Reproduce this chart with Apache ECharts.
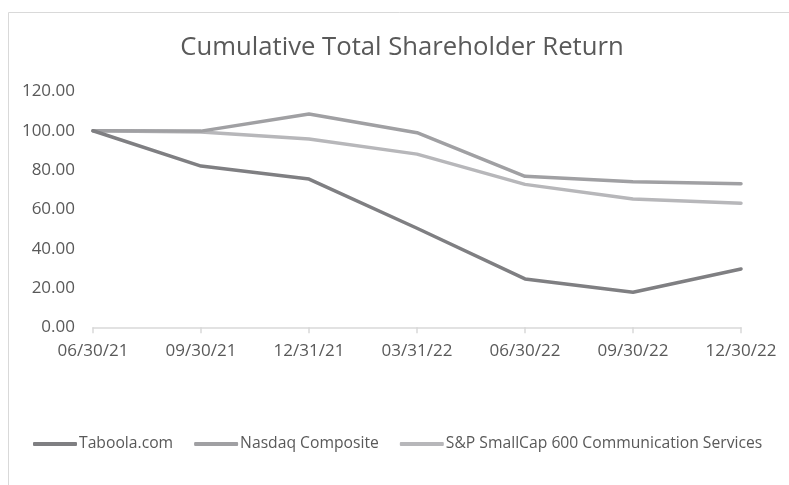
<!DOCTYPE html>
<html>
<head>
<meta charset="utf-8">
<script src="https://cdn.jsdelivr.net/npm/echarts@6/dist/echarts.min.js"></script>
<style>
  html, body { margin: 0; padding: 0; background: #fff; }
  #myChart { width: 789px; height: 485px; }
</style>
</head>
<body>
<div id="myChart"></div>
<script>
var categories = ['06/30/21', '09/30/21', '12/31/21', '03/31/22', '06/30/22', '09/30/22', '12/30/22']
var taboola = [100, 82.0, 75.4, 50.4, 24.6, 17.8, 29.7]
var nasdaq = [100, 99.8, 108.5, 99.0, 76.8, 74.0, 73.0]
var spSmallCap = [100, 99.4, 95.8, 88.1, 72.7, 65.3, 63.1]
var yTicks = [0, 20, 40, 60, 80, 100, 120]

var fontFamily = '"Open Sans", "Liberation Sans", sans-serif'
var textColor = '#595959'

var chartDom = document.getElementById('myChart')
var myChart = echarts.init(chartDom)
var option = {
  animation: false,
  graphic: [
    {
      type: 'rect',
      shape: { x: 8.5, y: 12.5, width: 800, height: 500 },
      style: { fill: 'none', stroke: '#d9d9d9', lineWidth: 1 }
    }
  ],
  title: {
    text: 'Cumulative Total Shareholder Return',
    left: 397,
    top: 30,
    textAlign: 'center',
    textStyle: {
      fontFamily: fontFamily,
      fontSize: 25.7,
      fontWeight: 'normal',
      color: textColor
    }
  },
  legend: {
    bottom: 28,
    left: 28,
    itemWidth: 44,
    itemHeight: 4,
    itemGap: 21,
    icon: 'roundRect',
    data: ['Taboola.com', 'Nasdaq Composite', 'S&P SmallCap 600 Communication Services'],
    textStyle: {
      fontFamily: fontFamily,
      fontSize: 15.7,
      color: textColor,
      padding: [0, 0, 0, -3]
    }
  },
  grid: {
    left: 93,
    right: 48,
    top: 91.4,
    bottom: 157.7
  },
  xAxis: {
    type: 'category',
    boundaryGap: false,
    data: categories,
    axisLine: { lineStyle: { color: '#d9d9d9', width: 1.5 } },
    axisTick: { show: true, length: 6, lineStyle: { color: '#d9d9d9', width: 1.5 } },
    axisLabel: {
      fontFamily: fontFamily,
      fontSize: 17,
      color: textColor,
      margin: 15
    }
  },
  yAxis: {
    type: 'value',
    min: yTicks[0],
    max: yTicks[yTicks.length - 1],
    interval: 20,
    splitLine: { show: false },
    axisLine: { show: false },
    axisTick: { show: false },
    axisLabel: {
      fontFamily: fontFamily,
      fontSize: 17,
      color: textColor,
      margin: 18,
      formatter: function (v) { return v.toFixed(2) }
    }
  },
  series: [
    {
      name: 'Taboola.com',
      type: 'line',
      data: taboola,
      symbol: 'none',
      lineStyle: { width: 3.5, color: '#7f7f82', cap: 'round', join: 'round' },
      itemStyle: { color: '#7f7f82' },
      z: 4
    },
    {
      name: 'Nasdaq Composite',
      type: 'line',
      data: nasdaq,
      symbol: 'none',
      lineStyle: { width: 3.5, color: '#a0a0a3', cap: 'round', join: 'round' },
      itemStyle: { color: '#a0a0a3' },
      z: 3
    },
    {
      name: 'S&P SmallCap 600 Communication Services',
      type: 'line',
      data: spSmallCap,
      symbol: 'none',
      lineStyle: { width: 3.5, color: '#b7b7ba', cap: 'round', join: 'round' },
      itemStyle: { color: '#b7b7ba' },
      z: 2
    }
  ]
}
myChart.setOption(option)
</script>
</body>
</html>
